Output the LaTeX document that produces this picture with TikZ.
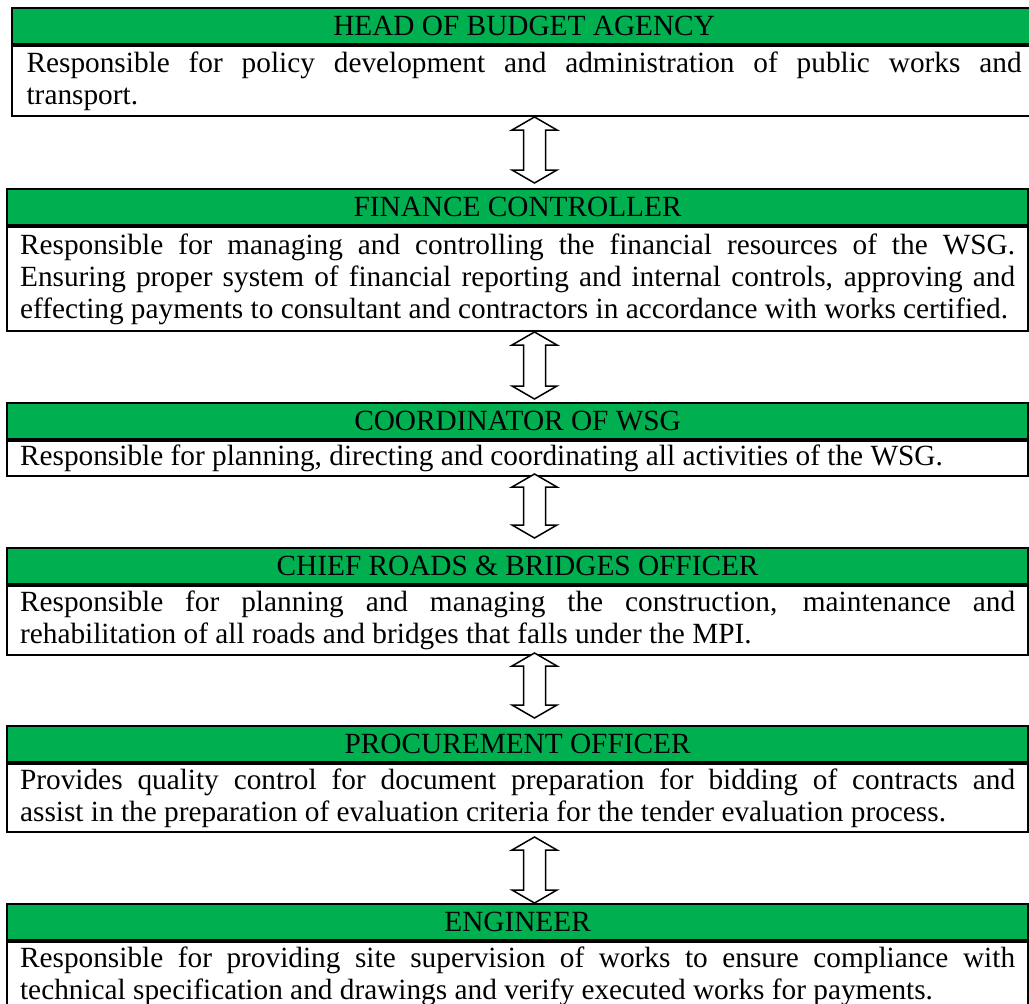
\documentclass[tikz,border=0pt]{standalone}
\usepackage{fontspec}
\setmainfont{Liberation Serif}
\usetikzlibrary{calc}
\definecolor{hdrgreen}{HTML}{00B050}
\newcommand\bodysize{\fontsize{29.3}{32}\selectfont}
\tikzset{
  hdr/.style={draw, line width=2.2pt, fill=hdrgreen, anchor=north west,
    minimum height=36pt, inner sep=0pt, font=\bodysize},
  desc/.style={draw, line width=2.2pt, fill=white, anchor=north,
    inner xsep=13pt, inner ysep=0pt, text width=995pt, align=justify,
    font=\bodysize},
  blockarrow/.style={draw, line width=1.5pt, fill=white, line join=miter}
}
% hollow two-way block arrow between two stacked boxes
\newcommand\twowayarrow[3]{%
  \coordinate (#1t) at (534.5,#2);
  \coordinate (#1b) at (534.5,#3);
  \draw[blockarrow] (#1t) -- ++(22.5,13) -- ++(-11.5,0) -- ($(#1b)+(11,-13)$)
    -- ++(11.5,0) -- (#1b) -- ++(-22.5,-13) -- ++(11.5,0)
    -- ($(#1t)+(-11,13)$) -- ++(-11.5,0) -- cycle;
}
\begin{document}
\begin{tikzpicture}[x=1pt,y=-1pt]
\useasboundingbox (0,0) rectangle (1029,1004);
\clip (0,0) rectangle (1029,1004);
\fill[white] (0,0) rectangle (1029,1004);

% head of budget agency
\node[hdr, minimum width=1024pt] (h1) at (11,7) {HEAD OF BUDGET AGENCY};
\node[desc, minimum height=70pt, inner xsep=14.5pt] (d1) at (h1.south)
  {Responsible for policy development and administration of public works and\linebreak transport.};

% finance controller
\node[hdr, minimum width=1021pt] (h2) at (6,188) {FINANCE CONTROLLER};
\node[desc, minimum height=104pt] (d2) at (h2.south)
  {Responsible for managing and controlling the financial resources of the WSG.\linebreak
   Ensuring proper system of financial reporting and internal controls, approving and\linebreak
   effecting payments to consultant and contractors in accordance with works certified.};

% coordinator
\node[hdr, minimum width=1021pt] (h3) at (6,402) {COORDINATOR OF WSG};
\node[desc, minimum height=35pt] (d3) at (h3.south)
  {Responsible for planning, directing and coordinating all activities of the WSG.};

% chief roads & bridges officer
\node[hdr, minimum width=1021pt] (h4) at (6,547) {CHIEF ROADS \& BRIDGES OFFICER};
\node[desc, minimum height=69pt] (d4) at (h4.south)
  {Responsible for planning and managing the construction, maintenance and\linebreak
   rehabilitation of all roads and bridges that falls under the MPI.};

% procurement officer
\node[hdr, minimum width=1021pt] (h5) at (6,725) {PROCUREMENT OFFICER};
\node[desc, minimum height=68pt] (d5) at (h5.south)
  {Provides quality control for document preparation for bidding of contracts and\linebreak
   assist in the preparation of evaluation criteria for the tender evaluation process.};

% engineer
\node[hdr, minimum width=1021pt] (h6) at (6,903) {ENGINEER};
\node[desc, minimum height=68pt] (d6) at (h6.south)
  {Responsible for providing site supervision of works to ensure compliance with\linebreak
   technical specification and drawings and verify executed works for payments.};

% links between levels
\twowayarrow{a1}{117}{183}
\twowayarrow{a2}{332}{399}
\twowayarrow{a3}{474}{538}
\twowayarrow{a4}{653}{718}
\twowayarrow{a5}{837}{903}
\end{tikzpicture}
\end{document}
